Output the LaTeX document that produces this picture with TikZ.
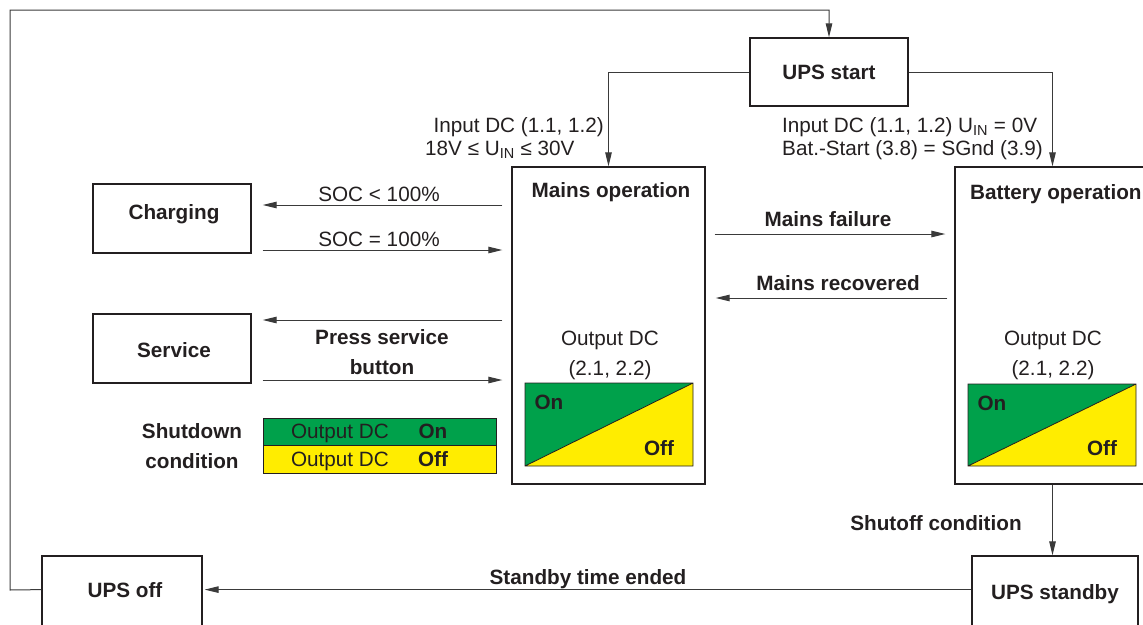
\documentclass[tikz,border=0pt]{standalone}
\usepackage{fontspec}
\setmainfont{Liberation Sans}
\usetikzlibrary{arrows.meta}
\definecolor{ink}{HTML}{231F20}
\definecolor{wire}{HTML}{3A3A3A}
\definecolor{ongreen}{RGB}{0,161,75}
\definecolor{offyellow}{RGB}{255,237,0}
\newcommand\myfs{\fontsize{20.7}{24}\selectfont}
\tikzset{
  box/.style={draw=ink, line width=1.3pt, inner sep=0pt},
  ttl/.style={font=\myfs\bfseries, text=ink, anchor=base, inner sep=0pt},
  txt/.style={font=\myfs, text=ink, anchor=base, inner sep=0pt},
  conn/.style={draw=wire, line width=1pt, -{Triangle[length=14pt,width=6.5pt]}},
}
\begin{document}
\begin{tikzpicture}[x=1pt,y=-1pt]
\useasboundingbox (0,0) rectangle (1143,624);
\clip (0,0) rectangle (1143,624);
% boxes
\node[box, minimum width=158pt, minimum height=68pt] (start) at (829,72) {};
\node[box, minimum width=193pt, minimum height=317pt] (mains) at (608.5,325.5) {};
\node[box, minimum width=215pt, minimum height=317pt] (battery) at (1062.5,325.5) {};
\node[box, minimum width=158pt, minimum height=69pt] (charging) at (172,218.5) {};
\node[box, minimum width=158pt, minimum height=69pt] (service) at (172,348.5) {};
\node[box, minimum width=160pt, minimum height=90pt] (off) at (122,601) {};
\node[box, minimum width=166pt, minimum height=90pt] (standby) at (1055,601) {};
% box titles
\node[ttl] (startt) at (829,79) {UPS start};
\node[ttl] (mainst) at (611,197) {Mains operation};
\node[ttl, anchor=base west] (batteryt) at (970,199) {Battery operation};
\node[ttl] (chargingt) at (174,219) {Charging};
\node[ttl] (servicet) at (174,357) {Service};
\node[ttl] (offt) at (125,597) {UPS off};
\node[ttl] (standbyt) at (1055,599) {UPS standby};
% output DC panels
\node[txt] (mo1) at (610,345) {Output DC};
\node[txt] (mo2) at (610,375) {(2.1, 2.2)};
\node[txt] (bo1) at (1053,345) {Output DC};
\node[txt] (bo2) at (1053,375) {(2.1, 2.2)};
\fill[ongreen] (525,383) rectangle (693,466);
\fill[offyellow] (525,466) -- (693,383) -- (693,466) -- cycle;
\draw[ink, line width=0.8pt] (525,383) rectangle (693,466) (525,466) -- (693,383);
\node[ttl] (mon) at (549,409) {On};
\node[ttl] (moff) at (659,455) {Off};
\fill[ongreen] (968,384) rectangle (1136,466);
\fill[offyellow] (968,466) -- (1136,384) -- (1136,466) -- cycle;
\draw[ink, line width=0.8pt] (968,384) rectangle (1136,466) (968,466) -- (1136,384);
\node[ttl] (bon) at (992,410) {On};
\node[ttl] (boff) at (1102,455) {Off};
% shutdown legend
\node[ttl] (sd1) at (192,438) {Shutdown};
\node[ttl] (sd2) at (192,468) {condition};
\fill[ongreen] (263,418) rectangle (496,445);
\fill[offyellow] (263,445) rectangle (496,473);
\draw[ink, line width=0.8pt] (263,418) rectangle (496,473) (263,445) -- (496,445);
\node[txt] (lg1) at (340,438) {Output DC};
\node[ttl] (lg2) at (433,438) {On};
\node[txt] (lg3) at (340,466) {Output DC};
\node[ttl] (lg4) at (433,466) {Off};
% start branches
\node[txt, anchor=base east] (in1) at (604,132) {Input DC (1.1, 1.2)};
\node[txt, anchor=base west] (in2) at (425,155) {18V ≤ U\textsubscript{IN} ≤ 30V};
\node[txt, anchor=base west] (in3) at (782,132) {Input DC (1.1, 1.2) U\textsubscript{IN} = 0V};
\node[txt, anchor=base west] (in4) at (782,155) {Bat.-Start (3.8) = SGnd (3.9)};
\draw[conn] (start.west) -| (mains.north);
\draw[conn] (start.east) -| ([xshift=-10pt]battery.north);
% loop back
\coordinate (lpA) at (10,590);
\coordinate (lpB) at (10,10);
\draw[conn] (off.west |- offt) -- (lpA) -- (lpB) -| (start.north);
% charging
\node[txt] (soc1) at (379,201) {SOC < 100\%};
\node[txt] (soc2) at (379,246) {SOC = 100\%};
\draw[conn, shorten <=9pt, shorten >=11pt] (mains.west |- 0,205) -- (charging.east |- 0,205);
\draw[conn, shorten <=11pt, shorten >=9pt] (charging.east |- 0,250) -- (mains.west |- 0,250);
% service
\node[ttl] (ps1) at (382,344) {Press service};
\node[ttl] (ps2) at (382,374) {button};
\draw[conn, shorten <=9pt, shorten >=11pt] (mains.west |- 0,320) -- (service.east |- 0,320);
\draw[conn, shorten <=11pt, shorten >=9pt] (service.east |- 0,380) -- (mains.west |- 0,380);
% mains / battery
\node[ttl] (mf) at (828,226) {Mains failure};
\node[ttl] (mr) at (838,290) {Mains recovered};
\draw[conn, shorten <=9pt, shorten >=9pt] (mains.east |- 0,234) -- (battery.west |- 0,234);
\draw[conn, shorten <=7pt, shorten >=10pt] (battery.west |- 0,298) -- (mains.east |- 0,298);
% shutoff
\node[ttl] (so) at (936,530) {Shutoff condition};
\draw[conn] ([xshift=-10pt]battery.south) -- ([xshift=-10pt]battery.south |- standby.north);
% standby
\node[ttl] (ste) at (588,584) {Standby time ended};
\draw[conn, shorten >=2pt] (standby.west |- offt) -- (off.east |- offt);
\end{tikzpicture}
\end{document}
